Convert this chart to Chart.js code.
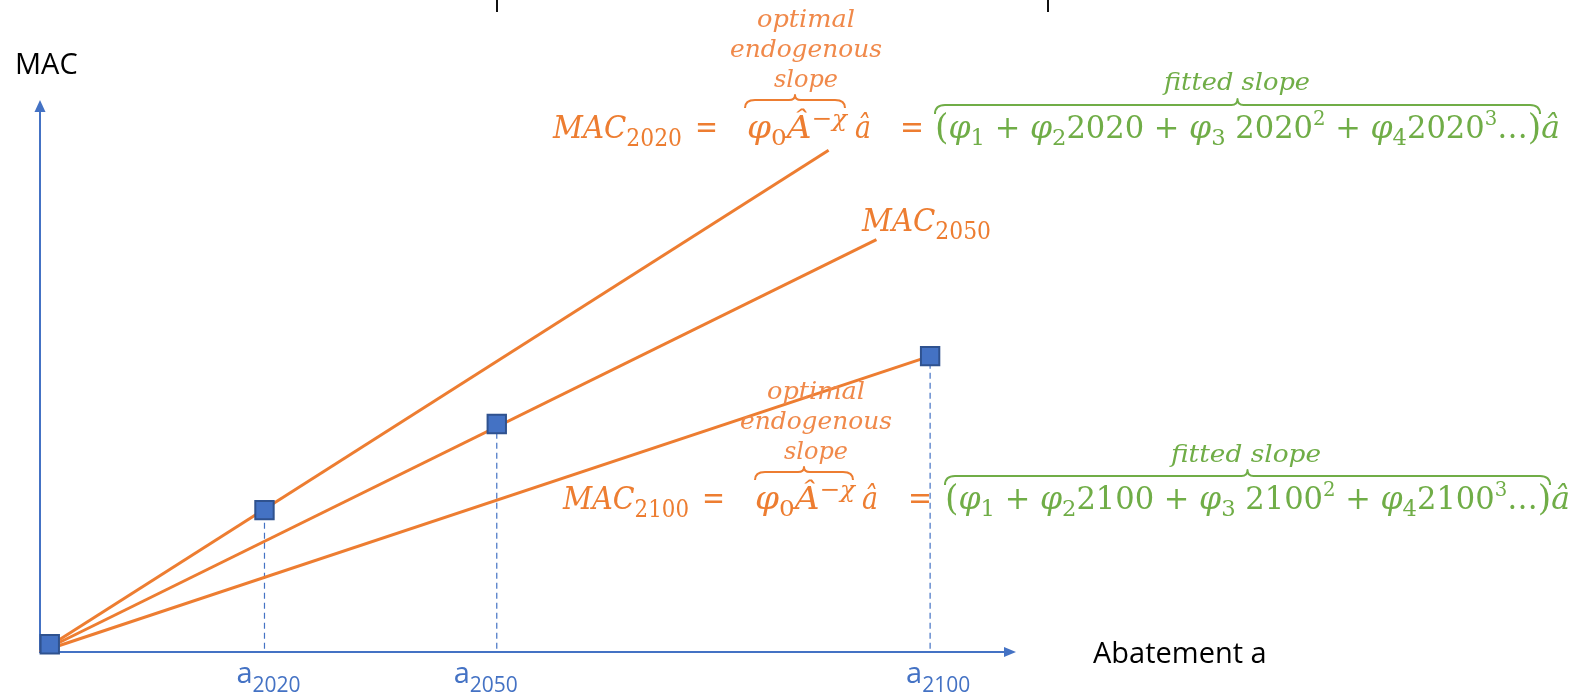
<!DOCTYPE html>
<html>
<head>
<meta charset="utf-8">
<script src="https://cdn.jsdelivr.net/npm/chart.js@4.4.1/dist/chart.umd.min.js"></script>
<style>
  html, body { margin: 0; padding: 0; background: #ffffff; }
  #wrap { width: 1580px; height: 698px; position: relative; }
</style>
</head>
<body>
<div id="wrap"><canvas id="chart"></canvas></div>
<script>
// Abatement / marginal abatement cost sketch: one MAC line per year
const years = ['2020', '2050', '2100'];
const abatementAt = [23.0, 46.8, 91.2];   // a_t on the abatement axis
const macAt = [25.7, 41.3, 53.6];         // MAC at a_t
const lineEndA = [80.8, 85.7, 91.2];      // where each MAC line stops
const lineEndMac = [90.9, 74.7, 53.6];
const originPoint = [1.0, 1.4];
const xTitle = 'Abatement a';
const yTitle = 'MAC';

const ORANGE = '#ED7D31';
const ORANGE_SOFT = '#F0894A';
const GREEN = '#70AD47';
const BLUE = '#4472C4';
const BLUE_DARK = '#2F528F';

const squares = [{ x: originPoint[0], y: originPoint[1] }].concat(
  abatementAt.map((a, i) => ({ x: a, y: macAt[i] }))
);

const datasets = [{
  label: 'a_t',
  data: squares,
  showLine: false,
  pointStyle: 'rect',
  pointRadius: 13,
  pointHoverRadius: 13,
  pointBackgroundColor: BLUE,
  pointBorderColor: BLUE_DARK,
  pointBorderWidth: 2,
  clip: false
}];

years.forEach((yr, i) => {
  datasets.push({
    label: 'MAC ' + yr,
    data: [{ x: 0, y: 0 }, { x: lineEndA[i], y: lineEndMac[i] }],
    showLine: true,
    borderColor: ORANGE,
    borderWidth: 3,
    pointRadius: 0,
    clip: false
  });
});

years.forEach((yr, i) => {
  datasets.push({
    label: 'a ' + yr,
    data: [{ x: abatementAt[i], y: 0.6 }, { x: abatementAt[i], y: macAt[i] }],
    showLine: true,
    borderColor: BLUE,
    borderWidth: 1.2,
    borderDash: [6, 4],
    pointRadius: 0,
    clip: false
  });
});

const SERIF = '"DejaVu Serif", "Liberation Serif", serif';
const SANS = '"Open Sans", "Noto Sans", sans-serif';
const it = (s) => `italic ${s}px ${SERIF}`;
const up = (s) => `${s}px ${SERIF}`;

function run(t, font, color, dy, gap) { return { t, font, color, dy: dy || 0, gap: gap || 0 }; }

function drawRuns(ctx, x, y, runs, target) {
  let w = 0;
  runs.forEach(r => { ctx.font = r.font; w += ctx.measureText(r.t).width + r.gap; });
  const sx = target ? target / w : 1;
  ctx.save();
  ctx.translate(x, y);
  ctx.scale(sx, 1);
  ctx.textAlign = 'left';
  ctx.textBaseline = 'alphabetic';
  let cx = 0;
  runs.forEach(r => {
    ctx.font = r.font;
    ctx.fillStyle = r.color;
    ctx.fillText(r.t, cx, r.dy);
    cx += ctx.measureText(r.t).width + r.gap;
  });
  ctx.restore();
}

function drawCentered(ctx, text, cx, y, font, color, target) {
  ctx.save();
  ctx.font = font;
  const w = ctx.measureText(text).width;
  const sx = target ? target / w : 1;
  ctx.translate(cx, y);
  ctx.scale(sx, 1);
  ctx.textAlign = 'center';
  ctx.textBaseline = 'middle';
  ctx.fillStyle = color;
  ctx.fillText(text, 0, 0);
  ctx.restore();
}

function overBrace(ctx, x1, x2, y, endDrop, cusp, color, lw) {
  const xm = (x1 + x2) / 2;
  const r = Math.min(10, (x2 - x1) / 6);
  ctx.save();
  ctx.strokeStyle = color;
  ctx.lineWidth = lw;
  ctx.lineJoin = 'round';
  ctx.beginPath();
  ctx.moveTo(x1, y + endDrop);
  ctx.quadraticCurveTo(x1, y, x1 + r, y);
  ctx.lineTo(xm - r * 0.6, y);
  ctx.quadraticCurveTo(xm, y, xm, y - cusp);
  ctx.quadraticCurveTo(xm, y, xm + r * 0.6, y);
  ctx.lineTo(x2 - r, y);
  ctx.quadraticCurveTo(x2, y, x2, y + endDrop);
  ctx.stroke();
  ctx.restore();
}

function slopeNote(ctx, cx, yTop) {
  drawCentered(ctx, 'optimal', cx, yTop, it(24), ORANGE_SOFT, 98);
  drawCentered(ctx, 'endogenous', cx, yTop + 30, it(24), ORANGE_SOFT, 152);
  drawCentered(ctx, 'slope', cx, yTop + 60, it(24), ORANGE_SOFT, 64);
}

function greenTerm(yr) {
  const G = GREEN;
  return [
    run('(', up(35), G, 1), run('φ', it(32), G), run('1', up(23), G, 7),
    run(' + ', up(31), G), run('φ', it(32), G), run('2', up(23), G, 7),
    run(yr, up(31), G),
    run(' + ', up(31), G), run('φ', it(32), G), run('3', up(23), G, 7),
    run(' ' + yr, up(31), G), run('2', up(20), G, -13),
    run(' + ', up(31), G), run('φ', it(32), G), run('4', up(23), G, 7),
    run(yr, up(31), G), run('3', up(20), G, -13),
    run('…', up(31), G), run(')', up(35), G, 1), run('â', it(32), G)
  ];
}

function equation(ctx, yr, base, xs) {
  // xs: [MAC, '=', φ, â, '=', green start, green end]
  drawRuns(ctx, xs[0], base, [run('MAC', it(32), ORANGE), run(yr, up(24), ORANGE, 8)], xs[1] - xs[0] - 13);
  drawRuns(ctx, xs[1], base, [run('=', up(31), ORANGE)], 23);
  drawRuns(ctx, xs[2], base, [
    run('φ', it(32), ORANGE), run('0', up(23), ORANGE, 7),
    run('Â', it(32), ORANGE), run('−χ', it(23), ORANGE, -12)
  ], 100);
  drawRuns(ctx, xs[3], base, [run('â', it(32), ORANGE)], 16);
  drawRuns(ctx, xs[4], base, [run('=', up(31), ORANGE)], 24);
  drawRuns(ctx, xs[5], base, greenTerm(yr), xs[6] - xs[5]);
}

const annotations = {
  id: 'annotations',
  beforeDatasetsDraw(chart) {
    const ctx = chart.ctx;
    const xs = chart.scales.x, ys = chart.scales.y;
    const x0 = xs.getPixelForValue(0), y0 = ys.getPixelForValue(0);
    const xEnd = xs.getPixelForValue(100), yEnd = ys.getPixelForValue(100);
    ctx.save();
    ctx.strokeStyle = BLUE;
    ctx.fillStyle = BLUE;
    ctx.lineWidth = 2;
    ctx.beginPath();
    ctx.moveTo(x0, y0 + 1);
    ctx.lineTo(x0, yEnd + 10);
    ctx.moveTo(x0 - 1, y0);
    ctx.lineTo(xEnd - 10, y0);
    ctx.stroke();
    ctx.beginPath();
    ctx.moveTo(x0, yEnd);
    ctx.lineTo(x0 - 5.5, yEnd + 12);
    ctx.lineTo(x0 + 5.5, yEnd + 12);
    ctx.closePath();
    ctx.fill();
    ctx.beginPath();
    ctx.moveTo(xEnd, y0);
    ctx.lineTo(xEnd - 12, y0 - 5);
    ctx.lineTo(xEnd - 12, y0 + 5);
    ctx.closePath();
    ctx.fill();
    ctx.restore();
  },
  afterDraw(chart) {
    const ctx = chart.ctx;
    const xs = chart.scales.x;

    // small marks along the upper edge
    ctx.fillStyle = '#111111';
    ctx.fillRect(496, 0, 2, 12);
    ctx.fillRect(1047, 0, 2, 12);

    // axis titles
    ctx.fillStyle = '#000000';
    ctx.font = `29px ${SANS}`;
    ctx.textAlign = 'left';
    ctx.textBaseline = 'alphabetic';
    ctx.fillText(yTitle, 15, 74);
    ctx.fillText(xTitle, 1093, 663);

    // year labels under the dashed guides
    const labelShift = [4, -11, 8];
    years.forEach((yr, i) => {
      const px = xs.getPixelForValue(abatementAt[i]) + labelShift[i];
      ctx.font = `29px ${SANS}`;
      const wa = ctx.measureText('a').width;
      ctx.font = `21px ${SANS}`;
      const ws = ctx.measureText(yr).width;
      const left = px - (wa + ws) / 2;
      ctx.fillStyle = BLUE;
      ctx.font = `29px ${SANS}`;
      ctx.fillText('a', left, 683);
      ctx.font = `21px ${SANS}`;
      ctx.fillText(yr, left + wa, 692);
    });

    // MAC_2050 tag at the end of its line
    drawRuns(ctx, 862, 231, [run('MAC', it(32), ORANGE), run('2050', up(24), ORANGE, 8)], 129);

    // 2020 equation
    slopeNote(ctx, 806, 21);
    overBrace(ctx, 745, 845, 100, 8, 5, ORANGE, 2);
    overBrace(ctx, 935, 1540, 105, 9, 6, GREEN, 2);
    drawCentered(ctx, 'fitted slope', 1237, 84, it(24), GREEN, 146);
    equation(ctx, '2020', 138, [553, 695, 747, 855, 900, 935, 1560]);

    // 2100 equation
    slopeNote(ctx, 816, 393);
    overBrace(ctx, 755, 853, 472, 8, 5, ORANGE, 2);
    overBrace(ctx, 945, 1550, 476, 9, 6, GREEN, 2);
    drawCentered(ctx, 'fitted slope', 1246, 456, it(24), GREEN, 150);
    equation(ctx, '2100', 509, [563, 702, 755, 862, 908, 945, 1570]);
  }
};

new Chart(document.getElementById('chart'), {
  type: 'scatter',
  data: { datasets },
  options: {
    responsive: true,
    maintainAspectRatio: false,
    animation: false,
    layout: { padding: { left: 40, top: 100, right: 564, bottom: 46 } },
    plugins: { legend: { display: false }, tooltip: { enabled: false } },
    scales: {
      x: { type: 'linear', min: 0, max: 100, display: false },
      y: { type: 'linear', min: 0, max: 100, display: false }
    }
  },
  plugins: [annotations]
});
</script>
</body>
</html>
